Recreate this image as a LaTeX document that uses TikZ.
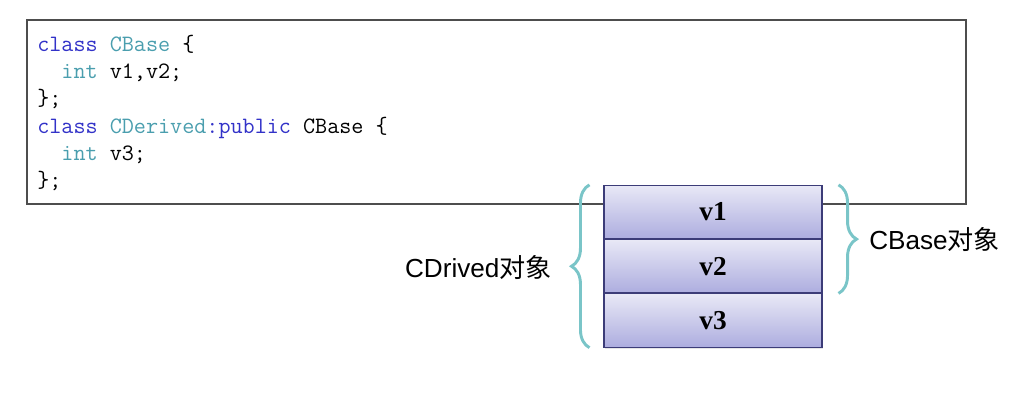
\documentclass[tikz,border=0pt]{standalone}
\usepackage{fontspec}
\setmainfont{Liberation Serif}
\setsansfont{Liberation Sans}
\newfontfamily\cjk{Noto Sans CJK SC}
\usepackage{xcolor}
\usetikzlibrary{positioning, calc, decorations.pathreplacing, shadows}
\definecolor{frame}{HTML}{4D4D4D}
\definecolor{kwblue}{HTML}{3232C8}
\definecolor{typeteal}{HTML}{4A9EAE}
\definecolor{celltop}{HTML}{E8E8F6}
\definecolor{cellbot}{HTML}{ADADDF}
\definecolor{celldraw}{HTML}{3C3C78}
\definecolor{bracecol}{HTML}{7AC5C8}
\tikzset{
  codeline/.style = {anchor=base west, inner sep=0pt,
                     font=\ttfamily\fontsize{17.6}{20}\selectfont},
  cell/.style     = {rectangle, draw=celldraw, line width=0.8pt,
                     shading=axis, top color=celltop, bottom color=cellbot,
                     minimum width=163.5pt, minimum height=39.9pt,
                     font=\bfseries\fontsize{20.5}{24}\selectfont,
                     drop shadow={opacity=0.2, shadow xshift=1pt, shadow yshift=-1.2pt}},
  objlabel/.style = {inner sep=0pt, font=\sffamily\fontsize{19.6}{22}\selectfont},
  curly/.style    = {draw=bracecol, line width=2.2pt,
                     decorate, decoration={brace, amplitude=13.5pt}},
}
\newcommand{\kw}[1]{\textcolor{kwblue}{#1}}
\newcommand{\ty}[1]{\textcolor{typeteal}{#1}}

\begin{document}
\begin{tikzpicture}[x=0.75pt, y=-0.75pt]
  \useasboundingbox (0,0) rectangle (1011,407);

  % code listing
  \draw[frame, line width=1.5pt] (27,20) rectangle (966,204);
  \node[codeline] (code1) at (37,51)  {\kw{class} \ty{CBase} \{};
  \node[codeline] (code2) at (37,78)  {\phantom{xx}\ty{int} v1,v2;};
  \node[codeline] (code3) at (37,105) {\};};
  \node[codeline] (code4) at (37,133) {\kw{class} \ty{CDerived}\kw{:public} CBase \{};
  \node[codeline] (code5) at (37,160) {\phantom{xx}\ty{int} v3;};
  \node[codeline] (code6) at (37,187) {\};};

  % object layout
  \node[cell] (v1) at (713,212) {v1};
  \node[cell, below=0pt of v1] (v2) {v2};
  \node[cell, below=0pt of v2] (v3) {v3};

  \draw[curly] ($(v3.south west)+(-10.5pt,0)$) -- ($(v1.north west)+(-10.5pt,0)$);
  \draw[curly] ($(v1.north east)+(12pt,0)$) -- ($(v2.south east)+(12pt,0)$);

  \node[objlabel, anchor=east] (drived) at (552,268) {CDrived{\cjk 对象}};
  \node[objlabel, anchor=west] (base) at (869,240) {CBase{\cjk 对象}};
\end{tikzpicture}
\end{document}
